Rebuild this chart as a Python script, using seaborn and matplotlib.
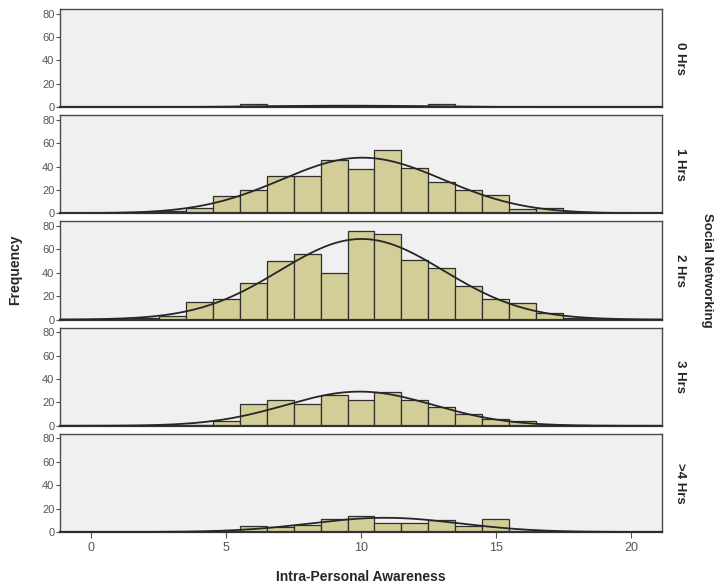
import numpy as np
import pandas as pd
import matplotlib
matplotlib.use("Agg")
import matplotlib.pyplot as plt
import seaborn as sns

# Intra-Personal Awareness score (bin centres) and frequency per social-networking group
scores = list(range(1, 19))
groups = ["0 Hrs", "1 Hrs", "2 Hrs", "3 Hrs", ">4 Hrs"]
counts_0hrs = [0, 0, 0, 0, 0, 3, 1, 0, 1, 1, 0, 1, 3, 0, 0, 0, 0, 0]
counts_1hrs = [1, 1, 2, 5, 15, 20, 32, 32, 46, 38, 54, 39, 27, 20, 16, 4, 5, 1]
counts_2hrs = [0, 1, 3, 15, 18, 31, 50, 56, 40, 76, 73, 51, 44, 29, 18, 14, 6, 1]
counts_3hrs = [0, 0, 0, 1, 4, 19, 22, 19, 26, 22, 29, 22, 16, 10, 6, 4, 1, 0]
counts_4hrs = [0, 0, 0, 0, 1, 5, 4, 6, 11, 14, 8, 8, 10, 5, 11, 1, 0, 0]
x_ticks = [0, 5, 10, 15, 20]
y_ticks = [0, 20, 40, 60, 80]

all_counts = [counts_0hrs, counts_1hrs, counts_2hrs, counts_3hrs, counts_4hrs]
df = pd.concat(
    [pd.DataFrame({"score": scores, "count": c, "group": g}) for g, c in zip(groups, all_counts)],
    ignore_index=True,
)
df = df[df["count"] > 0]

sns.set_theme(style="ticks")
plt.rcParams["font.family"] = ["Liberation Sans", "DejaVu Sans"]
plt.rcParams["axes.edgecolor"] = "#4a4a4a"
plt.rcParams["xtick.color"] = "#555555"
plt.rcParams["ytick.color"] = "#555555"

bar_color = "#D3CE97"
edge_color = "#2e2e2e"
panel_bg = "#F0F0F0"
xlim = (-1.15, 21.15)

g = sns.FacetGrid(df, row="group", row_order=groups, height=1.1, aspect=6.0,
                  sharex=True, sharey=True, margin_titles=True, despine=False)
g.map_dataframe(sns.histplot, x="score", weights="count", discrete=True,
                color=bar_color, edgecolor=edge_color, linewidth=0.9, alpha=1.0)

# Fitted normal curve for each group, scaled to counts (bin width 1)
xs = np.linspace(xlim[0], xlim[1], 400)
n_rows = len(groups)
for i, (ax, grp, c) in enumerate(zip(g.axes.flat, groups, all_counts)):
    c = np.asarray(c, dtype=float)
    s = np.asarray(scores, dtype=float)
    n = c.sum()
    mu = (s * c).sum() / n
    sd = np.sqrt((c * (s - mu) ** 2).sum() / (n - 1))
    ys = n / (sd * np.sqrt(2 * np.pi)) * np.exp(-0.5 * ((xs - mu) / sd) ** 2)
    ax.plot(xs, ys, color="#262626", linewidth=1.3, zorder=5)
    ax.set_facecolor(panel_bg)
    ax.set_xlim(*xlim)
    ax.set_ylim(0, 84)
    ax.set_yticks(y_ticks)
    ax.set_xticks(x_ticks)
    ax.tick_params(axis="y", labelsize=8, length=3, width=0.8, pad=1)
    if i == n_rows - 1:
        ax.tick_params(axis="x", labelsize=9, length=4, width=0.8)
    else:
        ax.tick_params(axis="x", length=0, labelbottom=False)
    ax.set_ylabel("")
    ax.set_xlabel("")
    ax.grid(False)
    for sp in ax.spines.values():
        sp.set_linewidth(1.0)
    ax.spines["bottom"].set_linewidth(1.6)
    ax.spines["bottom"].set_color("#333333")

g.set_titles(row_template="{row_name}", col_template="", fontweight="bold", size=9.5)
g.set_axis_labels("", "")

fig = g.figure
fig.set_size_inches(7.17, 5.87)
fig.subplots_adjust(left=60 / 717, right=662 / 717, top=1 - 9 / 587,
                    bottom=1 - 532 / 587, hspace=8 / 98)

fig.text(15 / 717, 1 - 270 / 587, "Frequency", rotation=90, ha="center", va="center",
         fontsize=10, fontweight="bold")
fig.text(361 / 717, 1 - 577 / 587, "Intra-Personal Awareness", ha="center", va="center",
         fontsize=10, fontweight="bold")
fig.text(707 / 717, 1 - 270 / 587, "Social Networking", rotation=270, ha="center", va="center",
         fontsize=9.5, fontweight="bold")

fig.savefig("out.png", dpi=100, facecolor="white")
